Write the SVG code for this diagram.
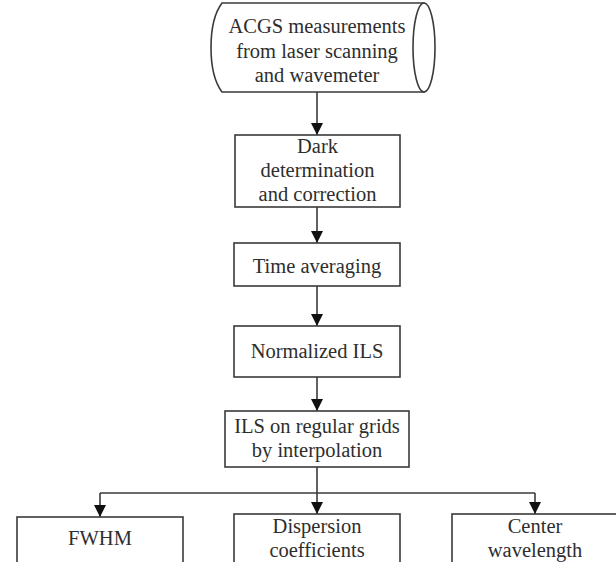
<svg xmlns="http://www.w3.org/2000/svg" width="616" height="562" viewBox="0 0 616 562">
<defs>
<style>
.box{fill:#fff;stroke:#3a3a3a;stroke-width:1.6}
.t{font-family:"Liberation Serif","Times New Roman",serif;font-size:20.5px;fill:#2e2e2e;text-anchor:middle}
.c{fill:none;stroke:#3a3a3a;stroke-width:1.6}
</style>
<marker id="ah" markerWidth="12" markerHeight="12" viewBox="0 0 12 12" refX="12" refY="6" orient="auto" markerUnits="userSpaceOnUse">
<path d="M0,0 L12,6 L0,12 Z" fill="#111"/>
</marker>
</defs>
<rect width="616" height="562" fill="#fff"/>
<g id="connectors">
<line class="c" x1="317" y1="92" x2="317" y2="135" marker-end="url(#ah)"/>
<line class="c" x1="317" y1="207" x2="317" y2="243" marker-end="url(#ah)"/>
<line class="c" x1="317" y1="286" x2="317" y2="326" marker-end="url(#ah)"/>
<line class="c" x1="317" y1="377" x2="317" y2="411" marker-end="url(#ah)"/>
<line class="c" x1="317" y1="467" x2="317" y2="514" marker-end="url(#ah)"/>
<path class="c" d="M100,493 L535,493"/>
<line class="c" x1="100" y1="493" x2="100" y2="517" marker-end="url(#ah)"/>
<line class="c" x1="535" y1="493" x2="535" y2="514" marker-end="url(#ah)"/>
</g>
<g id="n_acgs">
<path class="box" d="M222,3 L424,3 L424,92 L222,92 C213,80 211,65 211,47.5 C211,30 213,15 222,3 Z"/>
<ellipse class="box" cx="424" cy="47.5" rx="11" ry="44.5"/>
<text class="t" x="317" y="33">ACGS measurements</text>
<text class="t" x="317" y="58">from laser scanning</text>
<text class="t" x="317" y="82">and wavemeter</text>
</g>
<g id="n_dark">
<rect class="box" x="235" y="135" width="165" height="72"/>
<text class="t" x="317.5" y="153">Dark</text>
<text class="t" x="317.5" y="177">determination</text>
<text class="t" x="317.5" y="201">and correction</text>
</g>
<g id="n_time">
<rect class="box" x="234" y="243" width="166" height="43"/>
<text class="t" x="317" y="273">Time averaging</text>
</g>
<g id="n_norm">
<rect class="box" x="234" y="326" width="166" height="51"/>
<text class="t" x="317" y="358">Normalized ILS</text>
</g>
<g id="n_ils">
<rect class="box" x="225" y="411" width="184" height="56"/>
<text class="t" x="317" y="433">ILS on regular grids</text>
<text class="t" x="317" y="457">by interpolation</text>
</g>
<g id="n_fwhm">
<rect class="box" x="17" y="517" width="166" height="70"/>
<text class="t" x="100" y="545">FWHM</text>
</g>
<g id="n_disp">
<rect class="box" x="234" y="514" width="166" height="70"/>
<text class="t" x="317" y="533">Dispersion</text>
<text class="t" x="317" y="557">coefficients</text>
</g>
<g id="n_center">
<rect class="box" x="452" y="514" width="166" height="70"/>
<text class="t" x="535" y="533">Center</text>
<text class="t" x="535" y="557">wavelength</text>
</g>
</svg>
